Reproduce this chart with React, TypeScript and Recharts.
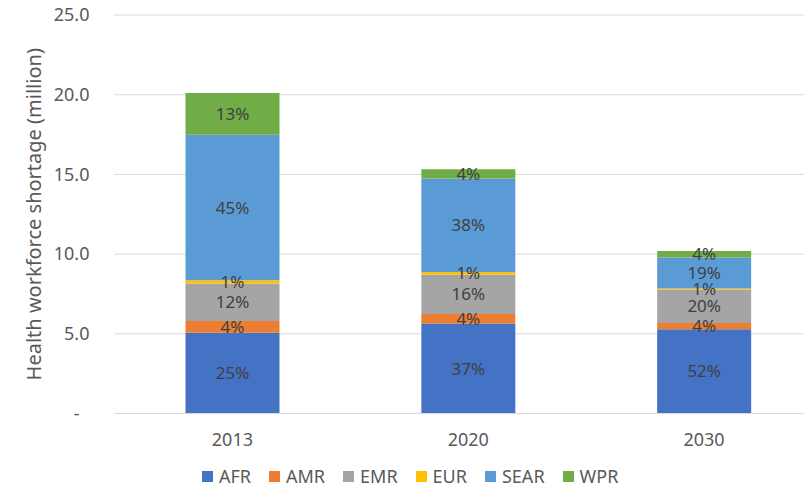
import { BarChart, Bar, XAxis, YAxis, CartesianGrid, LabelList, Label } from "recharts";

const years = ["2013", "2020", "2030"];

const regions = ["AFR", "AMR", "EMR", "EUR", "SEAR", "WPR"];

const COLORS = ["#4472C4", "#ED7D31", "#A5A5A5", "#FFC000", "#5B9BD5", "#70AD47"];

// shortage in millions, per region, one value per year
const AFR = [5.06, 5.65, 5.28];
const AMR = [0.74, 0.6, 0.39];
const EMR = [2.36, 2.47, 2.09];
const EUR = [0.2, 0.16, 0.08];
const SEAR = [9.13, 5.86, 1.95];
const WPR = [2.61, 0.58, 0.41];

// share labels printed inside the segments
const AFRpct = ["25%", "37%", "52%"];
const AMRpct = ["4%", "4%", "4%"];
const EMRpct = ["12%", "16%", "20%"];
const EURpct = ["1%", "1%", "1%"];
const SEARpct = ["45%", "38%", "19%"];
const WPRpct = ["13%", "4%", "4%"];

const yTicks = [0, 5, 10, 15, 20, 25];

const series = [AFR, AMR, EMR, EUR, SEAR, WPR];
const labels = [AFRpct, AMRpct, EMRpct, EURpct, SEARpct, WPRpct];

const data = years.map((year, i) => {
  const row: Record<string, string | number> = { year };
  regions.forEach((r, k) => {
    row[r] = series[k][i];
    row[r + "_lbl"] = labels[k][i];
  });
  return row;
});

const FONT = "'Noto Sans', 'Open Sans', sans-serif";
const TEXT = "#595959";

const YTick = (props: any) => {
  const { x, y, payload } = props;
  const zero = payload.value === 0;
  return (
    <text
      x={zero ? x - 10 : x}
      y={y}
      dy="0.35em"
      textAnchor="end"
      fill={TEXT}
      fontSize={18}
      fontFamily={FONT}
    >
      {zero ? "-" : payload.value.toFixed(1)}
    </text>
  );
};

const YTitle = (props: any) => {
  const { viewBox } = props;
  const cy = viewBox.y + viewBox.height / 2;
  return (
    <text
      x={25}
      y={cy}
      transform={`rotate(-90 25 ${cy})`}
      textAnchor="middle"
      dominantBaseline="central"
      fill={TEXT}
      fontSize={20}
      fontFamily={FONT}
    >
      Health workforce shortage (million)
    </text>
  );
};

export default function App() {
  return (
    <div style={{ position: "relative", width: 804, height: 489, marginTop: -8, overflow: "hidden", background: "#fff" }}>
      <BarChart
        width={814}
        height={489}
        data={data}
        margin={{ top: 15, right: 0, bottom: 45.5, left: 0 }}
      >
        <CartesianGrid vertical={false} stroke="#D9D9D9" />
        <XAxis
          dataKey="year"
          height={30}
          axisLine={{ stroke: "#D9D9D9" }}
          tickLine={false}
          tickSize={0}
          tickMargin={20}
          tick={{ fill: TEXT, fontSize: 18, fontFamily: FONT }}
        />
        <YAxis
          width={106.5}
          domain={[0, 25]}
          ticks={yTicks}
          axisLine={false}
          tickLine={false}
          tickSize={0}
          tickMargin={25}
          tick={<YTick />}
        >
          <Label content={<YTitle />} />
        </YAxis>
        {regions.map((r, k) => (
          <Bar
            key={r}
            dataKey={r}
            stackId="a"
            fill={COLORS[k]}
            barSize={94}
            isAnimationActive={false}
          >
            <LabelList
              dataKey={r + "_lbl"}
              position="center"
              fill="#404040"
              fontSize={17}
              fontFamily={FONT}
            />
          </Bar>
        ))}
      </BarChart>
      <div
        style={{
          position: "absolute",
          left: 194,
          top: 464,
          display: "flex",
          alignItems: "center",
          fontFamily: FONT,
          fontSize: 18,
          color: TEXT,
        }}
      >
        {regions.map((r, k) => (
          <div key={r} style={{ display: "flex", alignItems: "center", marginRight: 18 }}>
            <span style={{ width: 11, height: 11, background: COLORS[k], marginRight: 6 }} />
            <span>{r}</span>
          </div>
        ))}
      </div>
    </div>
  );
}
